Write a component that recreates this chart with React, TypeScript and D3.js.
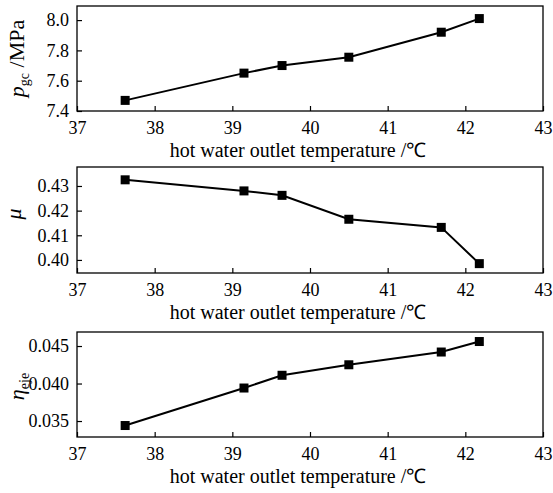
import { useEffect, useRef } from 'react';
import * as d3 from 'd3';

// hot water outlet temperature (°C)
const temps = [37.62, 39.15, 39.64, 40.5, 41.69, 42.18];
const pgc = [7.47, 7.65, 7.7, 7.755, 7.92, 8.01];
const mu = [0.4325, 0.428, 0.4262, 0.4165, 0.4132, 0.3985];
const eta = [0.0344, 0.0394, 0.0411, 0.0425, 0.0442, 0.0456];

const xTicks = [37, 38, 39, 40, 41, 42, 43];
const pgcTicks = [7.4, 7.6, 7.8, 8.0];
const muTicks = [0.4, 0.41, 0.42, 0.43];
const etaTicks = [0.035, 0.04, 0.045];

const FONT = '"Liberation Serif", "Times New Roman", serif';
const X_TITLE = 'hot water outlet temperature /℃';

export default function App() {
  const svgRef = useRef<SVGSVGElement>(null);

  useEffect(() => {
    if (!svgRef.current) return;
    const width = 553;
    const height = 493;
    const svg = d3.select(svgRef.current);
    svg.selectAll('*').remove();
    svg.attr('width', width).attr('height', height).attr('font-family', FONT);

    const panels = [
      { top: 6, bottom: 111, values: pgc, domain: [7.4, 8.093], ticks: pgcTicks, fmt: d3.format('.1f'), label: 'pgc' },
      { top: 167, bottom: 273, values: mu, domain: [0.3947, 0.4377], ticks: muTicks, fmt: d3.format('.2f'), label: 'mu' },
      { top: 332, bottom: 437, values: eta, domain: [0.03287, 0.04687], ticks: etaTicks, fmt: d3.format('.3f'), label: 'eta' },
    ];

    const x = d3.scaleLinear().domain([37, 43]).range([77, 543]);

    panels.forEach((p) => {
      const y = d3.scaleLinear().domain(p.domain).range([p.bottom, p.top]);
      const g = svg.append('g');

      // frame
      g.append('rect')
        .attr('x', 77)
        .attr('y', p.top)
        .attr('width', 543 - 77)
        .attr('height', p.bottom - p.top)
        .attr('fill', 'none')
        .attr('stroke', '#000')
        .attr('stroke-width', 1.3);

      // x axis
      const xAxis = g
        .append('g')
        .attr('transform', `translate(0,${p.bottom})`)
        .call(d3.axisBottom(x).tickValues(xTicks).tickFormat(d3.format('d') as any).tickSizeInner(-5).tickSizeOuter(0).tickPadding(10));
      xAxis.attr('font-family', FONT).attr('font-size', 18);
      xAxis.select('.domain').remove();
      xAxis.selectAll('line').attr('stroke', '#000').attr('stroke-width', 1.2);
      xAxis.selectAll('text').attr('fill', '#000');

      // y axis
      const yAxis = g
        .append('g')
        .attr('transform', 'translate(77,0)')
        .call(d3.axisLeft(y).tickValues(p.ticks).tickFormat(p.fmt as any).tickSizeInner(-5).tickSizeOuter(0).tickPadding(8));
      yAxis.attr('font-family', FONT).attr('font-size', 18);
      yAxis.select('.domain').remove();
      yAxis.selectAll('line').attr('stroke', '#000').attr('stroke-width', 1.2);
      yAxis.selectAll('text').attr('fill', '#000');

      // x title
      g.append('text')
        .attr('x', 298)
        .attr('y', p.bottom + 46)
        .attr('text-anchor', 'middle')
        .attr('font-size', 20)
        .text(X_TITLE);

      // line
      const line = d3
        .line<number>()
        .x((_, i) => x(temps[i]))
        .y((d) => y(d));
      g.append('path')
        .datum(p.values)
        .attr('d', line)
        .attr('fill', 'none')
        .attr('stroke', '#000')
        .attr('stroke-width', 2);

      // markers
      g.selectAll('rect.pt')
        .data(p.values)
        .join('rect')
        .attr('class', 'pt')
        .attr('x', (_, i) => x(temps[i]) - 4.5)
        .attr('y', (d) => y(d) - 4.5)
        .attr('width', 9)
        .attr('height', 9)
        .attr('fill', '#000');

      // y title
      const cy = (p.top + p.bottom) / 2;
      const t = g
        .append('text')
        .attr('transform', `translate(24,${cy}) rotate(-90)`)
        .attr('text-anchor', 'middle')
        .attr('font-size', 22);
      if (p.label === 'pgc') {
        t.append('tspan').attr('font-style', 'italic').text('p');
        t.append('tspan').attr('dy', 5).attr('font-size', 14).text('gc');
        t.append('tspan').attr('dy', -5).text(' /MPa');
      } else if (p.label === 'mu') {
        t.attr('transform', `translate(21,${cy - 6}) rotate(-90)`);
        t.append('tspan').attr('font-style', 'italic').text('μ');
      } else {
        t.attr('transform', `translate(24,${cy + 2}) rotate(-90)`);
        t.append('tspan').attr('font-style', 'italic').text('η');
        t.append('tspan').attr('dy', 5).attr('font-size', 14).text('eje');
      }
    });
  }, []);

  return (
    <div style={{ position: 'absolute', left: 0, top: 0 }}>
      <svg ref={svgRef} />
    </div>
  );
}
